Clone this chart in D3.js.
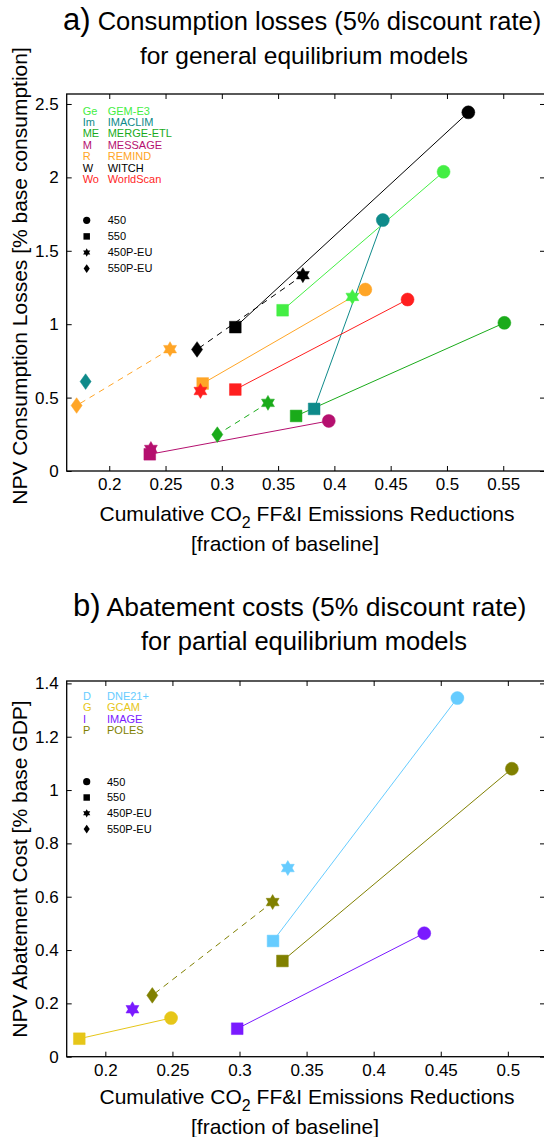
<!DOCTYPE html>
<html><head><meta charset="utf-8">
<script src="https://cdn.jsdelivr.net/npm/d3@7"></script>
<style>
body{margin:0;background:#fff}
text{font-family:"Liberation Sans",Arial,Helvetica,sans-serif}
</style>
</head><body>
<svg id="c" width="544" height="1137"></svg>
<script>
// ---------- DATA ----------
const scenarios = ["450", "550", "450P-EU", "550P-EU"];

// Panel a) general equilibrium models
const modelsA = ["GEM-E3", "IMACLIM", "MERGE-ETL", "MESSAGE", "REMIND", "WITCH", "WorldScan"];
const abbrA   = ["Ge", "Im", "ME", "M", "R", "W", "Wo"];
const colorsA = ["#44ee44", "#0e8a8a", "#1aab1a", "#b5106f", "#ffa526", "#000000", "#ff1f1f"];
const a450x  = [0.497, 0.443, 0.551, 0.395, 0.4275, 0.519, 0.465];
const a450y  = [2.038, 1.709, 1.009, 0.341, 1.236, 2.443, 1.168];
const a550x  = [0.354, 0.382, 0.366, 0.236, 0.283, 0.312, 0.312];
const a550y  = [1.095, 0.423, 0.375, 0.114, 0.596, 0.980, 0.555];
const a450Px = [0.416, null, 0.341, 0.237, 0.254, 0.372, 0.281];
const a450Py = [1.186, null, 0.464, 0.150, 0.830, 1.334, 0.545];
const a550Px = [null, 0.179, 0.296, null, 0.171, 0.278, null];
const a550Py = [null, 0.609, 0.248, null, 0.446, 0.828, null];
const aXTicks = [0.2, 0.25, 0.3, 0.35, 0.4, 0.45, 0.5, 0.55];
const aXTickLabels = ["0.2", "0.25", "0.3", "0.35", "0.4", "0.45", "0.5", "0.55"];
const aYTicks = [0, 0.5, 1, 1.5, 2, 2.5];
const aYTickLabels = ["0", "0.5", "1", "1.5", "2", "2.5"];

// Panel b) partial equilibrium models
const modelsB = ["DNE21+", "GCAM", "IMAGE", "POLES"];
const abbrB   = ["D", "G", "I", "P"];
const colorsB = ["#66ccff", "#e6c619", "#7a1aff", "#808000"];
const b450x  = [0.4624, 0.249, 0.4377, 0.503];
const b450y  = [1.345, 0.145, 0.463, 1.080];
const b550x  = [0.325, 0.1806, 0.2983, 0.332];
const b550y  = [0.434, 0.0675, 0.105, 0.359];
const b450Px = [0.336, null, 0.2202, 0.3247];
const b450Py = [0.7075, null, 0.178, 0.580];
const b550Px = [null, null, null, 0.235];
const b550Py = [null, null, null, 0.230];
const bXTicks = [0.2, 0.25, 0.3, 0.35, 0.4, 0.45, 0.5];
const bXTickLabels = ["0.2", "0.25", "0.3", "0.35", "0.4", "0.45", "0.5"];
const bYTicks = [0, 0.2, 0.4, 0.6, 0.8, 1, 1.2, 1.4];
const bYTickLabels = ["0", "0.2", "0.4", "0.6", "0.8", "1", "1.2", "1.4"];

// ---------- DRAWING ----------
const svg = d3.select("#c");

function hexagram(R) {
  const pts = [];
  for (let k = 0; k < 12; k++) {
    const a = (-90 + 30 * k) * Math.PI / 180;
    const r = k % 2 === 0 ? R : R / Math.sqrt(3);
    pts.push([r * Math.cos(a), r * Math.sin(a)]);
  }
  return "M" + pts.map(p => p[0].toFixed(2) + "," + p[1].toFixed(2)).join("L") + "Z";
}
function markerPath(type, s) {
  if (type === 0) { return d3.arc()({innerRadius: 0, outerRadius: s, startAngle: 0, endAngle: 2 * Math.PI}); }
  if (type === 1) { const h = s * 0.9; return `M${-h},${-h}L${h},${-h}L${h},${h}L${-h},${h}Z`; }
  if (type === 2) { return hexagram(s * 1.15); }
  const w = s * 0.85, h = s * 1.2; return `M0,${-h}L${w},0L0,${h}L${-w},0Z`;
}

function panel(cfg) {
  const g = svg.append("g");
  const x = d3.scaleLinear().domain(cfg.xDomain).range([cfg.l, cfg.r]);
  const y = d3.scaleLinear().domain(cfg.yDomain).range([cfg.b, cfg.t]);

  const ax = g.append("g").attr("transform", `translate(0,${cfg.b})`)
    .call(d3.axisBottom(x).tickValues(cfg.xTicks).tickFormat((d, i) => cfg.xTickLabels[i])
      .tickSizeInner(-5).tickSizeOuter(0).tickPadding(7));
  const axT = g.append("g").attr("transform", `translate(0,${cfg.t})`)
    .call(d3.axisTop(x).tickValues(cfg.xTicks).tickFormat("").tickSizeInner(-5).tickSizeOuter(0));
  const ay = g.append("g").attr("transform", `translate(${cfg.l},0)`)
    .call(d3.axisLeft(y).tickValues(cfg.yTicks).tickFormat((d, i) => cfg.yTickLabels[i])
      .tickSizeInner(-5).tickSizeOuter(0).tickPadding(8));
  const ayR = g.append("g").attr("transform", `translate(${cfg.r},0)`)
    .call(d3.axisRight(y).tickValues(cfg.yTicks).tickFormat("").tickSizeInner(-5).tickSizeOuter(0));
  [ax, axT, ay, ayR].forEach(a => {
    a.select(".domain").remove();
    a.selectAll(".tick line").attr("stroke", "#000").attr("stroke-width", 1);
    a.selectAll(".tick text").attr("font-size", 17).attr("fill", "#000")
      .attr("font-family", '"Liberation Sans",Arial,Helvetica,sans-serif');
  });
  g.append("rect").attr("x", cfg.l).attr("y", cfg.t)
    .attr("width", cfg.r - cfg.l).attr("height", cfg.b - cfg.t)
    .attr("fill", "none").attr("stroke", "#000").attr("stroke-width", 1.3);

  const plot = g.append("g");
  const S = cfg.series;
  cfg.models.forEach((m, i) => {
    const col = cfg.colors[i];
    const pt = k => (S[k][0][i] == null ? null : [x(S[k][0][i]), y(S[k][1][i])]);
    const p450 = pt(0), p550 = pt(1), p450P = pt(2), p550P = pt(3);
    if (p450 && p550) plot.append("line").attr("x1", p450[0]).attr("y1", p450[1])
      .attr("x2", p550[0]).attr("y2", p550[1]).attr("stroke", col).attr("stroke-width", 1);
    if (p450P && p550P) plot.append("line").attr("x1", p450P[0]).attr("y1", p450P[1])
      .attr("x2", p550P[0]).attr("y2", p550P[1]).attr("stroke", col).attr("stroke-width", 1)
      .attr("stroke-dasharray", "6,5");
  });
  cfg.models.forEach((m, i) => {
    const col = cfg.colors[i];
    [2, 3, 0, 1].forEach(k => {
      const xv = S[k][0][i], yv = S[k][1][i];
      if (xv == null) return;
      plot.append("path").attr("d", markerPath(k, 6.5))
        .attr("transform", `translate(${x(xv)},${y(yv)})`)
        .attr("fill", col).attr("stroke", col).attr("stroke-width", 0.5);
    });
  });

  const lg = g.append("g");
  cfg.models.forEach((m, i) => {
    const yy = cfg.legY + i * cfg.legDy;
    lg.append("text").attr("x", cfg.legX1).attr("y", yy).attr("dy", "0.35em")
      .attr("font-size", 11).attr("fill", cfg.colors[i]).text(cfg.abbr[i]);
    lg.append("text").attr("x", cfg.legX2).attr("y", yy).attr("dy", "0.35em")
      .attr("font-size", 11).attr("fill", cfg.colors[i]).text(m);
  });
  scenarios.forEach((s, k) => {
    const yy = cfg.symY + k * cfg.symDy;
    lg.append("path").attr("d", markerPath(k, 3.6))
      .attr("transform", `translate(${cfg.symX},${yy})`).attr("fill", "#000");
    lg.append("text").attr("x", cfg.legX2).attr("y", yy).attr("dy", "0.35em")
      .attr("font-size", 11).attr("fill", "#000").text(s);
  });

  const t1 = g.append("text").attr("x", cfg.titleX).attr("y", cfg.titleY1).attr("font-size", cfg.t1Size).attr("fill", "#000");
  t1.append("tspan").attr("font-size", 31).text(cfg.titleTag);
  t1.append("tspan").text(" " + cfg.title1);
  g.append("text").attr("x", cfg.title2X).attr("y", cfg.titleY2).attr("text-anchor", "middle")
    .attr("font-size", cfg.t2Size).attr("fill", "#000").text(cfg.title2);

  const xl = g.append("text").attr("x", cfg.xlX).attr("y", cfg.xlY).attr("text-anchor", "middle")
    .attr("font-size", 21).attr("fill", "#000");
  xl.append("tspan").text("Cumulative CO");
  xl.append("tspan").attr("font-size", 16).attr("dy", 7).text("2");
  xl.append("tspan").attr("dy", -7).text(" FF&I Emissions Reductions");
  g.append("text").attr("x", cfg.xl2X).attr("y", cfg.xlY + 30).attr("text-anchor", "middle")
    .attr("font-size", 21).attr("fill", "#000").text("[fraction of baseline]");

  g.append("text").attr("transform", `translate(${cfg.ylX},${cfg.ylY}) rotate(-90)`)
    .attr("text-anchor", "middle").attr("font-size", 21).attr("fill", "#000").text(cfg.ylabel);
}

panel({
  l: 66.7, r: 545, t: 94, b: 471,
  xDomain: [0.1622, 0.5871], yDomain: [0, 2.568],
  xTicks: aXTicks, xTickLabels: aXTickLabels, yTicks: aYTicks, yTickLabels: aYTickLabels,
  models: modelsA, abbr: abbrA, colors: colorsA,
  series: [[a450x, a450y], [a550x, a550y], [a450Px, a450Py], [a550Px, a550Py]],
  legX1: 82.7, legX2: 107.7, legY: 110.7, legDy: 11.4,
  symX: 86.7, symY: 220.3, symDy: 16.1,
  titleX: 63, titleY1: 30, title2X: 304, titleY2: 64, t1Size: 25.5, t2Size: 24.5,
  titleTag: "a)", title1: "Consumption losses (5% discount rate)", title2: "for general equilibrium models",
  xlX: 307, xl2X: 285, xlY: 521,
  ylX: 27, ylY: 276, ylabel: "NPV Consumption Losses [% base consumption]"
});

panel({
  l: 66.7, r: 545, t: 681, b: 1056.7,
  xDomain: [0.1712, 0.5277], yDomain: [0, 1.409],
  xTicks: bXTicks, xTickLabels: bXTickLabels, yTicks: bYTicks, yTickLabels: bYTickLabels,
  models: modelsB, abbr: abbrB, colors: colorsB,
  series: [[b450x, b450y], [b550x, b550y], [b450Px, b450Py], [b550Px, b550Py]],
  legX1: 83, legX2: 107, legY: 696, legDy: 11.4,
  symX: 86.7, symY: 781.7, symDy: 15.8,
  titleX: 73, titleY1: 616, title2X: 304, titleY2: 650, t1Size: 26.5, t2Size: 25.5,
  titleTag: "b)", title1: "Abatement costs (5% discount rate)", title2: "for partial equilibrium models",
  xlX: 307, xl2X: 285, xlY: 1104,
  ylX: 27, ylY: 869, ylabel: "NPV Abatement Cost [% base GDP]"
});
</script>
</body></html>
